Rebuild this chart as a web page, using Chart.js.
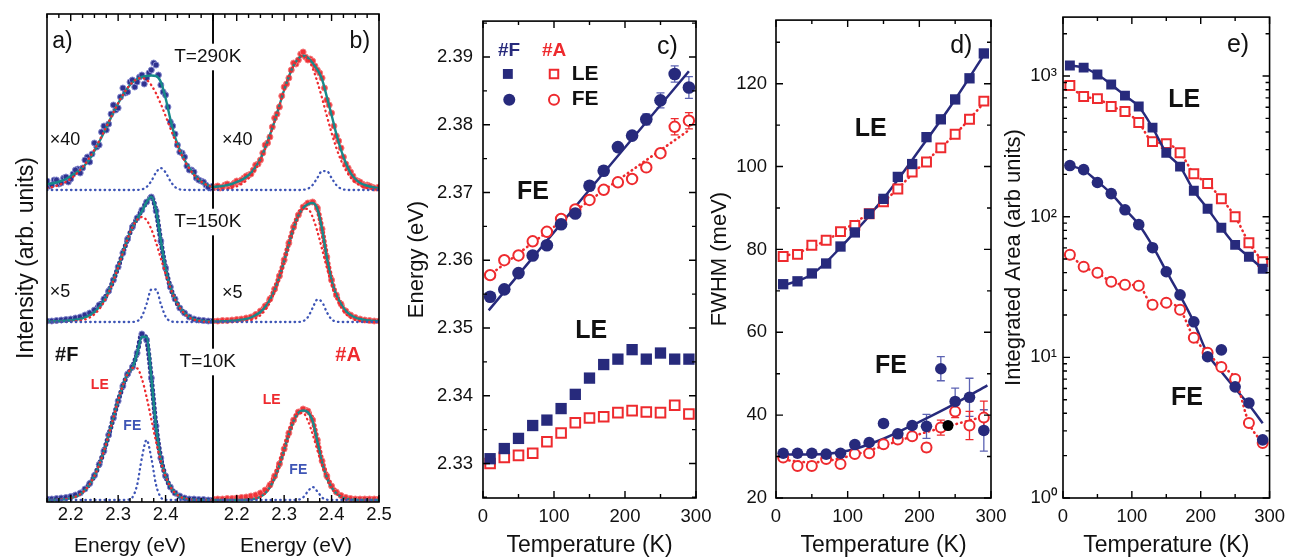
<!DOCTYPE html>
<html>
<head>
<meta charset="utf-8">
<title>Spectra and fit parameters</title>
<script src="https://cdn.jsdelivr.net/npm/chart.js@4.4.0/dist/chart.umd.min.js"></script>
<style>
  html, body { margin: 0; background: #fff; }
  #wrap { position: relative; width: 1293px; height: 559px; overflow: hidden; }
  #wrap canvas { position: absolute; left: 0; top: 0; }
</style>
</head>
<body>
<div id="wrap">
  <canvas id="panelA" width="1293" height="559"></canvas>
  <canvas id="panelB" width="1293" height="559"></canvas>
  <canvas id="panelC" width="1293" height="559"></canvas>
  <canvas id="panelD" width="1293" height="559"></canvas>
  <canvas id="panelE" width="1293" height="559"></canvas>
</div>
<script>
// ---- spectra (panels a, b): energy grid in eV, intensities ----
const energy = [2.15,2.16,2.17,2.18,2.19,2.20,2.21,2.22,2.23,2.24,2.25,2.26,2.27,2.28,2.29,2.30,2.31,2.32,2.33,2.34,2.35,2.36,2.37,2.38,2.39,2.40,2.41,2.42,2.43,2.44,2.45,2.46,2.47,2.48,2.49,2.50];
const energyHalf = [2.155,2.165,2.175,2.185,2.195,2.205,2.215,2.225,2.235,2.245,2.255,2.265,2.275,2.285,2.295,2.305,2.315,2.325,2.335,2.345,2.355,2.365,2.375,2.385,2.395,2.405,2.415,2.425,2.435,2.445,2.455,2.465,2.475,2.485,2.495];

// sample #F
const fitF10  = [0,.001,.002,.005,.009,.018,.033,.058,.098,.158,.241,.352,.49,.65,.825,.996,1.147,1.261,1.322,1.467,1.633,1.63,1.227,.732,.413,.239,.134,.07,.034,.015,.006,.002,0,0,0,0];
const leF10   = [0,.001,.002,.005,.009,.018,.033,.058,.098,.158,.241,.352,.49,.65,.825,.996,1.147,1.261,1.32,1.317,1.213,1.03,.807,.582,.387,.237,.134,.07,.034,.015,.006,.002,.001,0,0,0];
const feF10   = [0,0,0,0,0,0,0,0,0,0,0,0,0,0,0,0,0,.002,.026,.15,.42,.6,.42,.15,.026,.002,0,0,0,0,0,0,0,0,0,0];
const dataF10 = [.01,.01,.015,.02,.025,.035,.05,.07,.11,.165,.245,.355,.49,.65,.82,.99,1.14,1.26,1.33,1.47,1.66,1.6,1.22,.74,.42,.24,.13,.07,.04,.02,.01,.01,.005,.005,0,0];

const fitF150  = [.005,.006,.008,.01,.013,.017,.023,.032,.046,.068,.1,.15,.215,.305,.42,.55,.694,.831,.947,1.032,1.105,1.198,1.252,1.118,.817,.536,.35,.229,.145,.088,.05,.028,.016,.01,.007,.005];
const leF150   = [0,0,0,.001,.001,.003,.007,.013,.025,.045,.078,.128,.199,.294,.412,.548,.693,.831,.946,1.023,1.05,1.018,.927,.793,.637,.481,.341,.228,.142,.084,.046,.024,.012,.005,.002,.001];
const feF150   = [0,0,0,0,0,0,0,0,0,0,0,0,0,0,0,0,0,0,.001,.009,.055,.18,.325,.325,.18,.055,.009,.001,0,0,0,0,0,0,0,0];
const dataF150 = [.01,.01,.015,.02,.025,.03,.04,.05,.07,.09,.12,.17,.23,.31,.42,.55,.69,.83,.95,1.04,1.12,1.2,1.25,1.11,.81,.54,.35,.23,.14,.09,.05,.03,.02,.015,.01,.01];

const fitF290   = [.06,.065,.075,.09,.11,.14,.17,.2,.25,.31,.39,.48,.575,.675,.775,.865,.95,1.02,1.075,1.11,1.13,1.14,1.145,1.14,1.08,.92,.71,.53,.4,.3,.22,.155,.105,.07,.045,.03];
const leF290    = [.019,.028,.041,.059,.082,.112,.152,.2,.258,.326,.404,.49,.583,.679,.776,.868,.951,1.022,1.075,1.109,1.12,1.102,1.048,.965,.86,.741,.618,.499,.39,.294,.215,.151,.104,.069,.044,.027];
const feF290    = [0,0,0,0,0,0,0,0,0,0,0,0,0,0,0,0,0,0,0,.001,.006,.03,.09,.176,.22,.176,.09,.03,.006,.001,0,0,0,0,0,0];
const dataF290  = [.09,.05,.1,.07,.13,.11,.2,.17,.3,.28,.47,.45,.64,.66,.85,.82,1.02,.98,1.1,1.08,1.15,1.12,1.2,1.25,1.05,.95,.68,.56,.38,.33,.2,.18,.1,.08,.03,.04];
const dataF290b = [.04,.1,.06,.12,.08,.16,.21,.22,.33,.36,.43,.58,.6,.76,.8,.93,.97,1.08,1.03,1.13,1.06,1.17,1.27,1.15,.98,.83,.64,.45,.37,.24,.2,.12,.09,.05,.02];

// sample #A
const fitA10  = [0,0,0,0,0,0,.001,.002,.006,.014,.032,.066,.126,.22,.347,.5,.66,.793,.873,.895,.879,.79,.586,.372,.223,.126,.066,.032,.014,.006,.002,.001,0,0,0,0];
const leA10   = [0,0,0,0,0,0,.001,.002,.006,.014,.032,.066,.126,.22,.347,.5,.66,.793,.87,.87,.793,.66,.5,.347,.22,.126,.066,.032,.014,.006,.002,.001,0,0,0,0];
const feA10   = [0,0,0,0,0,0,0,0,0,0,0,0,0,0,0,0,0,0,.003,.025,.086,.13,.086,.025,.003,0,0,0,0,0,0,0,0,0,0,0];
const dataA10 = [.01,.01,.01,.015,.015,.02,.025,.03,.04,.05,.07,.1,.15,.24,.36,.51,.67,.8,.88,.91,.89,.8,.6,.39,.24,.14,.08,.045,.025,.015,.01,.01,.01,.01,.01,.01];

const fitA150  = [.005,.006,.007,.009,.012,.016,.022,.03,.045,.07,.1,.15,.22,.32,.45,.61,.78,.94,1.064,1.14,1.178,1.19,1.131,.928,.645,.415,.27,.18,.11,.07,.045,.03,.02,.015,.01,.01];
const leA150   = [0,0,0,0,.001,.002,.004,.009,.018,.036,.068,.119,.196,.305,.443,.605,.777,.938,1.063,1.131,1.13,1.05,.907,.729,.544,.378,.244,.146,.081,.042,.02,.009,.004,.001,0,0];
const feA150   = [0,0,0,0,0,0,0,0,0,0,0,0,0,0,0,0,0,0,.001,.009,.048,.14,.224,.199,.098,.027,.004,0,0,0,0,0,0,0,0,0];
const dataA150 = [.01,.01,.015,.015,.02,.025,.03,.04,.05,.075,.11,.16,.23,.33,.46,.62,.79,.95,1.07,1.15,1.19,1.2,1.14,.93,.65,.42,.27,.18,.11,.07,.045,.03,.02,.015,.01,.01];

const fitA290   = [.03,.035,.04,.05,.06,.08,.1,.13,.17,.23,.31,.42,.55,.69,.845,1.0,1.135,1.245,1.315,1.342,1.322,1.269,1.204,1.107,.931,.75,.56,.4,.27,.17,.11,.07,.05,.035,.025,.02];
const leA290    = [.002,.003,.006,.012,.021,.036,.059,.094,.143,.211,.3,.41,.541,.689,.844,.997,1.135,1.245,1.315,1.34,1.309,1.219,1.083,.918,.742,.572,.421,.295,.198,.126,.077,.045,.025,.013,.007,.003];
const feA290    = [0,0,0,0,0,0,0,0,0,0,0,0,0,0,0,0,0,0,0,.002,.013,.05,.121,.189,.189,.121,.05,.013,.002,0,0,0,0,0,0,0];
const dataA290  = [.02,.04,.03,.06,.05,.09,.1,.14,.16,.25,.3,.45,.53,.72,.83,1.03,1.12,1.27,1.3,1.38,1.3,1.29,1.2,1.12,.9,.77,.54,.42,.26,.18,.1,.08,.04,.04,.02,.03];
const dataA290b = [.03,.02,.05,.04,.07,.08,.12,.15,.2,.26,.37,.47,.63,.76,.94,1.06,1.2,1.26,1.36,1.33,1.31,1.24,1.17,1.02,.85,.64,.49,.33,.22,.14,.09,.06,.05,.03,.02];

// ---- temperature series (panels c, d, e) ----
const temps = [10,30,50,70,90,110,130,150,170,190,210,230,250,270,290];

// c) peak energy (eV)
const peLE_F = [2.3307,2.3322,2.3337,2.3356,2.3364,2.3381,2.3402,2.3426,2.3446,2.3454,2.3468,2.3454,2.3463,2.3454,2.3454];
const peLE_A = [2.3300,2.3309,2.3312,2.3315,2.3332,2.3345,2.3360,2.3367,2.3369,2.3375,2.3378,2.3376,2.3375,2.3386,2.3373];
const peFE_F = [2.3546,2.3557,2.3581,2.3607,2.3622,2.3653,2.3669,2.3710,2.3732,2.3767,2.3784,2.3808,2.3836,2.3875,2.3855];
const peFE_A = [2.3578,2.3600,2.3607,2.3628,2.3642,2.3661,2.3675,2.3689,2.3704,2.3715,2.3720,2.3737,2.3758,2.3797,2.3806];
const peErrFE_F = [0,0,0,0,0,0,0,0,0,0,.0004,.0008,.0011,.0012,.0016];
const peErrFE_A = [0,0,0,0,0,0,0,0,0,0,0,0,.0004,.0012,.0012];
const fitT_c = [8,150,290];
const fitFE_F_c = [2.3526,2.3704,2.3879];
const fitFE_A_c = [2.3577,2.3688,2.3792];

// d) FWHM (meV)
const fwLE_F = [71.6,72.3,74.2,76.6,80.7,84.1,88.6,92.2,97.5,100.6,107.1,111.4,116.2,121.3,127.3];
const fwLE_A = [78.3,78.8,81.0,82.2,84.3,85.8,88.6,91.5,94.6,98.7,101.1,104.5,107.8,111.4,115.8];
const fwFE_F = [30.8,30.8,30.8,30.6,30.8,32.9,33.4,38.0,35.5,37.5,37.3,51.2,43.3,44.3,36.3];
const fwFE_A = [29.8,27.7,27.7,29.4,28.2,30.6,30.8,33.0,34.1,34.9,32.2,37.0,40.9,37.5,39.4];
const fwErrFE_F = [0,0,0,0,0,0,0,0,0,0,2.9,2.9,3.2,4.6,5.0];
const fwErrFE_A = [0,0,0,0,0,0,0,0,0,0,1.0,1.8,1.5,3.4,4.0];
const fitT_d = [5,50,100,150,200,250,295];
const fitLE_F_d = [71.0,74.0,82.3,92.3,104.0,116.2,128.3];
const fitLE_A_d = [78.0,80.5,85.3,91.5,99.8,107.8,116.3];
const fitFE_F_d = [30.5,30.5,31.4,34.3,38.4,42.8,47.2];
const fitFE_A_d = [29.3,28.6,30.0,32.6,35.4,37.8,39.9];
const extraT = [240];
const extraFW = [37.5];

// e) integrated area (arb. units)
const arLE_F = [1188,1148,1025,871,726,607,430,285,227,153,114,83.5,63,51.9,42.7];
const arLE_A = [856,715,691,607,559,467,342,331,285,202,172,134,100,65.3,47.9];
const arFE_F = [231,216,175,146,112,87.8,60.2,40.6,27.8,17.9,10.1,11.3,6.17,4.74,2.59];
const arFE_A = [53.7,44.1,39.9,34.5,32.8,32.3,23.7,24.4,21.8,13.8,10.8,8.55,7.03,3.42,2.46];
const fitFE_F_e = [231,214,178,146,113,88,62,41,27.5,17.8,10.6,7.9,6.0,4.6,3.4];

// tick labels
const ticksEa = [2.2,2.3,2.4];
const ticksEb = [2.2,2.3,2.4,2.5];
const ticksT = [0,100,200,300];
const ticksPe = [2.33,2.34,2.35,2.36,2.37,2.38,2.39];
const ticksFw = [20,40,60,80,100,120];
const ticksAr = [1,10,100,1000];
const ticksArText = ['10\u2070','10\u00b9','10\u00b2','10\u00b3'];

// ---- look ----
const W = 1293, H = 559;
const FONT = "'Liberation Sans', Arial, Helvetica, sans-serif";
const INK = '#111';
const NAVY = '#272a7c';
const RED = '#ee2a2e';
const TEAL = '#16898a';
const FE_BLUE = '#3e55b6';
const ERR_BLUE = '#5c63b3';
const OFF = {t10: 0.02, t150: 1.80, t290: 3.12};   // vertical stacking of the spectra

const pts = (xs, ys, off = 0) => xs.map((x, i) => ({x, y: ys[i] + off}));

const dotted = (c, w = 2.6) => ({showLine: true, borderColor: c, borderWidth: w, borderDash: [0.5, 4.3],
  borderCapStyle: 'round', pointRadius: 0, cubicInterpolationMode: 'monotone'});
const solid = c => ({showLine: true, borderColor: c, borderWidth: 2.5, pointRadius: 0, cubicInterpolationMode: 'monotone'});
const mk = (style, r, fill, stroke, bw) => ({pointStyle: style, pointRadius: r, pointBackgroundColor: fill,
  pointBorderColor: stroke, pointBorderWidth: bw, showLine: false});

function spectrum(off, fit, le, fe, dat, datHalf, dot, edge) {
  const noisy = !!datHalf;
  const sets = [
    {data: pts(energy, fe, off), ...dotted(FE_BLUE, 2.3)},
    {data: pts(energy, le, off), ...dotted(RED, 2.3)},
    {data: pts(energy, fit, off), ...solid(TEAL), borderWidth: 2.4},
    {data: pts(energy, dat, off), showLine: !noisy, borderColor: dot, borderWidth: 5, borderDash: [0, 4.5],
      borderCapStyle: 'round', cubicInterpolationMode: 'monotone',
      pointRadius: 3, pointBackgroundColor: dot, pointBorderColor: edge, pointBorderWidth: 1}
  ];
  if (noisy) sets.push({data: pts(energyHalf, datHalf, off), showLine: false,
    pointRadius: 3, pointBackgroundColor: dot, pointBorderColor: edge, pointBorderWidth: 1});
  return sets;
}

// ---- plugins: boxed frame with inward ticks, error bars, text labels ----
function stepMarks(min, max, step, major) {
  const out = [];
  for (let i = Math.ceil(min / step - 1e-6); i * step <= max + 1e-9; i++) {
    const v = i * step;
    out.push({v, major: Math.abs(v / major - Math.round(v / major)) < 1e-6});
  }
  return out;
}
function logMarks(min, max) {
  const out = [];
  for (let d = Math.floor(Math.log10(min)); Math.pow(10, d) <= max; d++)
    for (let k = 1; k <= 9; k++) {
      const v = k * Math.pow(10, d);
      if (v >= min && v <= max) out.push({v, major: k === 1});
    }
  return out;
}

const frame = {
  id: 'frame',
  afterDatasetsDraw(chart, args, o) {
    const {ctx, chartArea: a, scales} = chart;
    const marks = (sc, spec) => spec.log ? logMarks(sc.min, sc.max) : stepMarks(sc.min, sc.max, spec.step, spec.major);
    ctx.save();
    ctx.strokeStyle = '#000';
    ctx.lineWidth = 1.6;
    ctx.strokeRect(a.left, a.top, a.right - a.left, a.bottom - a.top);
    ctx.lineWidth = 1.4;
    ctx.beginPath();
    if (o.x) marks(scales.x, o.x).forEach(({v, major}) => {
      const p = scales.x.getPixelForValue(v), len = major ? 7 : 4;
      ctx.moveTo(p, a.bottom); ctx.lineTo(p, a.bottom - len);
      ctx.moveTo(p, a.top); ctx.lineTo(p, a.top + len);
    });
    if (o.y) marks(scales.y, o.y).forEach(({v, major}) => {
      const p = scales.y.getPixelForValue(v), len = major ? 7 : 4;
      ctx.moveTo(a.left, p); ctx.lineTo(a.left + len, p);
      ctx.moveTo(a.right, p); ctx.lineTo(a.right - len, p);
    });
    ctx.stroke();
    ctx.restore();
  }
};

const errorBars = {
  id: 'errorBars',
  beforeDatasetsDraw(chart) {
    const {ctx} = chart, ys = chart.scales.y;
    chart.data.datasets.forEach((ds, i) => {
      if (!ds.errors) return;
      ctx.save();
      ctx.strokeStyle = ds.errorColor;
      ctx.lineWidth = 1.3;
      ctx.beginPath();
      chart.getDatasetMeta(i).data.forEach((pt, j) => {
        const e = ds.errors[j];
        if (!e) return;
        const y1 = ys.getPixelForValue(ds.data[j].y - e), y2 = ys.getPixelForValue(ds.data[j].y + e);
        ctx.moveTo(pt.x, y1); ctx.lineTo(pt.x, y2);
        ctx.moveTo(pt.x - 4, y1); ctx.lineTo(pt.x + 4, y1);
        ctx.moveTo(pt.x - 4, y2); ctx.lineTo(pt.x + 4, y2);
      });
      ctx.stroke();
      ctx.restore();
    });
  }
};

const notes = {
  id: 'notes',
  afterDraw(chart, args, o) {
    const {ctx} = chart, xs = chart.scales.x, ys = chart.scales.y;
    (o.items || []).forEach(it => {
      const px = xs.getPixelForValue(it.x), py = ys.getPixelForValue(it.y);
      ctx.save();
      if (it.shape) {
        ctx.fillStyle = it.fill;
        ctx.strokeStyle = it.stroke;
        ctx.lineWidth = it.lw || 0;
        Chart.helpers.drawPoint(ctx, {pointStyle: it.shape, radius: it.r, rotation: 0, borderWidth: it.lw || 0}, px, py);
      } else {
        ctx.font = (it.bold ? 'bold ' : '') + (it.size || 18) + 'px ' + FONT;
        ctx.textAlign = it.align || 'left';
        ctx.textBaseline = 'middle';
        if (it.bg) {
          const w = ctx.measureText(it.t).width;
          const x0 = it.align === 'center' ? px - w / 2 : px;
          ctx.fillStyle = '#fff';
          ctx.fillRect(x0 - 3, py - it.size * 0.7, w + 6, it.size * 1.4);
        }
        ctx.fillStyle = it.color || INK;
        ctx.fillText(it.t, px, py);
      }
      ctx.restore();
    });
  }
};

// ---- axes and panels ----
function axis(min, max, tickVals, fmt, title, pad, titleSize, extra = {}) {
  return Object.assign({
    type: 'linear', min, max,
    afterBuildTicks: s => { s.ticks = tickVals.map(v => ({value: v})); },
    grid: {display: false, drawTicks: false},
    border: {display: false},
    ticks: {padding: pad, autoSkip: false, maxRotation: 0, color: INK, font: {family: FONT, size: 18.5}, callback: fmt},
    title: {display: !!title, text: title, color: INK, padding: 0, font: {family: FONT, size: titleSize}}
  }, extra);
}

function panel(id, rect, yw, xs, ys, datasets, frameOpts, items) {
  xs.afterFit = s => { s.height = H - rect.B; };
  ys.afterFit = s => { s.width = yw; };
  return new Chart(document.getElementById(id), {
    type: 'scatter',
    data: {datasets},
    options: {
      responsive: false, animation: false, events: [], devicePixelRatio: 1,
      layout: {padding: {left: rect.L - yw, top: rect.T, right: W - rect.R, bottom: 0}},
      scales: {x: xs, y: ys},
      plugins: {legend: {display: false}, tooltip: {enabled: false}, frame: frameOpts, notes: {items}}
    },
    plugins: [frame, errorBars, notes]
  });
}

const fmt1 = v => v.toFixed(1);
const fmt2 = v => v.toFixed(2);
const fmt0 = v => String(v);
const DOT_F = '#2f3290', EDGE_F = '#8488cc', DOT_A = '#f03338', EDGE_A = '#f47a7c';

// a) sample #F spectra
panel('panelA', {L: 47, T: 14, R: 213, B: 502}, 34,
  axis(2.15, 2.5, ticksEa, fmt1, 'Energy (eV)', 2, 21),
  axis(0, 4.88, [], fmt1, 'Intensity (arb. units)', 0, 23, {ticks: {display: false}}),
  [
    ...spectrum(OFF.t290, fitF290, leF290, feF290, dataF290, dataF290b, DOT_F, EDGE_F),
    ...spectrum(OFF.t150, fitF150, leF150, feF150, dataF150, null, DOT_F, EDGE_F),
    ...spectrum(OFF.t10, fitF10, leF10, feF10, dataF10, null, DOT_F, EDGE_F)
  ],
  {x: {step: 0.025, major: 0.1}},
  [
    {t: 'a)', x: 2.161, y: 4.60, size: 23},
    {t: '\u00d740', x: 2.156, y: 3.62, size: 18},
    {t: '\u00d75', x: 2.156, y: 2.10, size: 18},
    {t: '#F', x: 2.167, y: 1.47, size: 20, bold: true},
    {t: 'LE', x: 2.2424, y: 1.17, size: 14, bold: true, color: RED},
    {t: 'FE', x: 2.311, y: 0.76, size: 14, bold: true, color: FE_BLUE}
  ]);

// b) sample #A spectra
panel('panelB', {L: 213, T: 14, R: 379, B: 502}, 0,
  axis(2.15, 2.5, ticksEb, fmt1, 'Energy (eV)', 2, 21),
  axis(0, 4.88, [], fmt1, '', 0, 21, {display: false}),
  [
    ...spectrum(OFF.t290, fitA290, leA290, feA290, dataA290, dataA290b, DOT_A, EDGE_A),
    ...spectrum(OFF.t150, fitA150, leA150, feA150, dataA150, null, DOT_A, EDGE_A),
    ...spectrum(OFF.t10, fitA10, leA10, feA10, dataA10, null, DOT_A, EDGE_A)
  ],
  {x: {step: 0.025, major: 0.1}},
  [
    {t: 'b)', x: 2.438, y: 4.60, size: 23},
    {t: '\u00d740', x: 2.169, y: 3.62, size: 18},
    {t: '\u00d75', x: 2.169, y: 2.09, size: 18},
    {t: '#A', x: 2.408, y: 1.47, size: 20, bold: true, color: RED},
    {t: 'LE', x: 2.255, y: 1.02, size: 14, bold: true, color: RED},
    {t: 'FE', x: 2.311, y: 0.32, size: 14, bold: true, color: FE_BLUE},
    {t: 'T=290K', x: 2.139, y: 4.45, size: 19, align: 'center', bg: true},
    {t: 'T=150K', x: 2.139, y: 2.80, size: 19, align: 'center', bg: true},
    {t: 'T=10K', x: 2.139, y: 1.40, size: 19, align: 'center', bg: true}
  ]);

// c) peak energy vs temperature
panel('panelC', {L: 483, T: 17, R: 696, B: 498}, 79,
  axis(0, 300, ticksT, fmt0, 'Temperature (K)', 8, 23),
  axis(2.3249, 2.3953, ticksPe, fmt2, 'Energy (eV)', 10, 22),
  [
    {data: pts(temps, peFE_F), ...mk('circle', 6.3, NAVY, NAVY, 0), errors: peErrFE_F, errorColor: ERR_BLUE},
    {data: pts(temps, peFE_A), ...mk('circle', 5.2, '#fff', RED, 2), errors: peErrFE_A, errorColor: RED},
    {data: pts(temps, peLE_F), ...mk('rect', 8, NAVY, NAVY, 0)},
    {data: pts(temps, peLE_A), ...mk('rect', 6.8, '#fff', RED, 2)},
    {data: pts(fitT_c, fitFE_F_c), ...solid(NAVY)},
    {data: pts(fitT_c, fitFE_A_c), ...dotted(RED)}
  ],
  {x: {step: 50, major: 100}, y: {step: 0.005, major: 0.01}},
  [
    {t: '#F', x: 21, y: 2.3909, size: 19, bold: true, color: NAVY},
    {t: '#A', x: 83, y: 2.3909, size: 19, bold: true, color: RED},
    {shape: 'rect', x: 35, y: 2.3875, r: 7, fill: NAVY, stroke: NAVY, lw: 0},
    {shape: 'rect', x: 100, y: 2.3875, r: 6, fill: '#fff', stroke: RED, lw: 2},
    {t: 'LE', x: 125, y: 2.3875, size: 21, bold: true},
    {shape: 'circle', x: 37, y: 2.3837, r: 6, fill: NAVY, stroke: NAVY, lw: 0},
    {shape: 'circle', x: 100, y: 2.3837, r: 5, fill: '#fff', stroke: RED, lw: 2},
    {t: 'FE', x: 125, y: 2.3837, size: 21, bold: true},
    {t: 'c)', x: 245, y: 2.3915, size: 25},
    {t: 'FE', x: 48, y: 2.370, size: 25, bold: true},
    {t: 'LE', x: 130, y: 2.3495, size: 25, bold: true}
  ]);

// d) FWHM vs temperature
panel('panelD', {L: 776, T: 17, R: 991, B: 498}, 69,
  axis(0, 300, ticksT, fmt0, 'Temperature (K)', 8, 23),
  axis(20, 135.35, ticksFw, fmt0, 'FWHM (meV)', 9, 22),
  [
    {data: pts(extraT, extraFW), ...mk('circle', 5.5, '#000', '#000', 0)},
    {data: pts(temps, fwFE_F), ...mk('circle', 5.8, NAVY, NAVY, 0), errors: fwErrFE_F, errorColor: ERR_BLUE},
    {data: pts(temps, fwFE_A), ...mk('circle', 5, '#fff', RED, 2), errors: fwErrFE_A, errorColor: RED},
    {data: pts(temps, fwLE_F), ...mk('rect', 7.3, NAVY, NAVY, 0)},
    {data: pts(temps, fwLE_A), ...mk('rect', 6.3, '#fff', RED, 2)},
    {data: pts(fitT_d, fitLE_F_d), ...solid(NAVY)},
    {data: pts(fitT_d, fitLE_A_d), ...dotted(RED)},
    {data: pts(fitT_d, fitFE_F_d), ...solid(NAVY)},
    {data: pts(fitT_d, fitFE_A_d), ...dotted(RED)}
  ],
  {x: {step: 50, major: 100}, y: {step: 10, major: 20}},
  [
    {t: 'd)', x: 243, y: 129, size: 25},
    {t: 'LE', x: 110, y: 109, size: 25, bold: true},
    {t: 'FE', x: 138, y: 51.9, size: 25, bold: true}
  ]);

// e) integrated area vs temperature (log)
panel('panelE', {L: 1063, T: 17, R: 1277, B: 498}, 62,
  axis(0, 300, ticksT, fmt0, 'Temperature (K)', 8, 23),
  axis(1, 2625, ticksAr, v => ticksArText[ticksAr.indexOf(v)], 'Integrated Area (arb units)', 6, 22, {type: 'logarithmic'}),
  [
    {data: pts(temps, arFE_F), ...mk('circle', 5.8, NAVY, NAVY, 0)},
    {data: pts(temps, arFE_A), ...dotted(RED), ...mk('circle', 5, '#fff', RED, 2), showLine: true},
    {data: pts(temps, arLE_F), ...solid(NAVY), ...mk('rect', 7, NAVY, NAVY, 0), showLine: true},
    {data: pts(temps, arLE_A), ...dotted(RED), ...mk('rect', 6.3, '#fff', RED, 2), showLine: true},
    {data: pts(temps, fitFE_F_e), ...solid(NAVY)}
  ],
  {x: {step: 50, major: 100}, y: {log: true}},
  [
    {t: 'e)', x: 238, y: 1660, size: 25},
    {t: 'LE', x: 153, y: 675, size: 25, bold: true},
    {t: 'FE', x: 157, y: 5.14, size: 25, bold: true}
  ]);
</script>
</body>
</html>
